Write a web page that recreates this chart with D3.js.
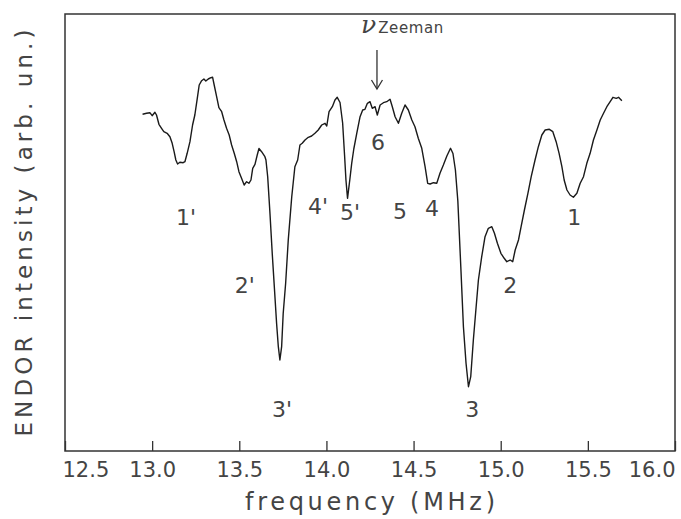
<!DOCTYPE html>
<html>
<head>
<meta charset="utf-8">
<script src="https://cdn.jsdelivr.net/npm/d3@7"></script>
<style>
  body { margin: 0; background: #fff; }
  svg { display: block; }
  text { font-family: "DejaVu Sans", sans-serif; fill: #444; }
</style>
</head>
<body>
<svg id="chart" width="681" height="519"></svg>
<script>
// spectrum trace (frequency in MHz, intensity in arb. units)
const freq = [12.945, 12.968, 12.987, 13.000, 13.016, 13.025, 13.039, 13.054, 13.067, 13.086,
  13.102, 13.115, 13.126, 13.136, 13.146, 13.159, 13.178, 13.188, 13.201, 13.217,
  13.232, 13.245, 13.259, 13.270, 13.284, 13.297, 13.308, 13.322, 13.337, 13.347,
  13.356, 13.370, 13.383, 13.399, 13.412, 13.427, 13.442, 13.456, 13.471, 13.485,
  13.498, 13.513, 13.528, 13.542, 13.555, 13.567, 13.577, 13.590, 13.603, 13.613,
  13.628, 13.647, 13.653, 13.663, 13.676, 13.689, 13.701, 13.714, 13.724, 13.733,
  13.743, 13.752, 13.766, 13.781, 13.801, 13.819, 13.835, 13.848, 13.861, 13.877,
  13.896, 13.915, 13.934, 13.953, 13.973, 13.992, 14.002, 14.015, 14.034, 14.049,
  14.062, 14.078, 14.093, 14.104, 14.112, 14.121, 14.134, 14.145, 14.157, 14.174,
  14.193, 14.208, 14.221, 14.235, 14.250, 14.263, 14.279, 14.292, 14.308, 14.327,
  14.346, 14.365, 14.378, 14.394, 14.413, 14.432, 14.451, 14.470, 14.490, 14.508,
  14.527, 14.547, 14.566, 14.581, 14.595, 14.614, 14.633, 14.652, 14.671, 14.691,
  14.712, 14.726, 14.740, 14.754, 14.771, 14.786, 14.801, 14.815, 14.828, 14.843,
  14.859, 14.872, 14.891, 14.910, 14.929, 14.949, 14.964, 14.981, 15.001, 15.020,
  15.035, 15.054, 15.069, 15.083, 15.102, 15.117, 15.136, 15.156, 15.175, 15.197,
  15.216, 15.236, 15.255, 15.279, 15.299, 15.318, 15.335, 15.351, 15.364, 15.380,
  15.398, 15.417, 15.437, 15.456, 15.475, 15.494, 15.513, 15.532, 15.552, 15.571,
  15.590, 15.609, 15.628, 15.644, 15.663, 15.676, 15.695];

const intensity = [336.7, 337.7, 338.3, 335.3, 338.7, 336, 326.7, 322.7, 319.3, 317.7,
  314.3, 307.7, 299.3, 291, 287, 288.7, 288.3, 289.3, 297.7, 309.3,
  326, 336, 352.7, 366, 370.3, 372, 370, 372, 373.3, 373.7,
  366, 354.3, 343.3, 339.3, 331, 322.7, 316, 306, 297.7, 289.3,
  279.3, 272.7, 266, 269.3, 267.7, 271, 282.7, 286.7, 296, 302.5,
  299.3, 294.3, 291, 274.3, 237.7, 197.7, 164.3, 127.7, 104.3, 91,
  104.3, 137.7, 167.7, 211, 254.3, 284.3, 291, 306, 307.7, 311,
  313.7, 315, 317.7, 321, 326, 327.7, 325, 339.3, 344.3, 351,
  353.7, 348.5, 328, 296, 271, 252.7, 271, 287.7, 302, 317.7,
  334.3, 341, 341.7, 347.7, 349.3, 342.7, 344.3, 336, 346, 348.3,
  349.3, 351.7, 344.3, 334.3, 327.7, 337.7, 346, 341, 331, 324.3,
  312.7, 302.7, 284.3, 267.7, 267, 268.3, 267.7, 278, 286, 295,
  302.7, 297.5, 281, 250, 184.3, 124.3, 87.7, 64.3, 74.3, 111,
  144.3, 171, 194.3, 214.3, 222.7, 224.3, 217.7, 207.7, 197.7, 192.7,
  189.3, 191, 189.3, 201, 211, 224.3, 241, 257.7, 274.3, 291,
  304.3, 316, 321, 321.7, 319.3, 309.3, 297.7, 284.3, 271, 261,
  256, 253.7, 257.7, 267.7, 274.3, 287.7, 297.7, 311, 321, 331,
  337.7, 344.3, 349.3, 353.7, 352.7, 353.7, 350.3];

// x axis ticks
const tickValues = [12.5, 13.0, 13.5, 14.0, 14.5, 15.0, 15.5, 16.0];

// line assignments written under the spectrum
const peakLabels = ["1'", "2'", "3'", "4'", "5'", "5", "4", "1", "6", "2", "3"];
const peakFreq = [13.194, 13.532, 13.745, 13.952, 14.135, 14.422, 14.606, 15.422, 14.296, 15.054, 14.836];
const peakLevel = [226, 158, 34, 237, 231, 232, 235, 226, 301, 158, 34];

// Zeeman frequency marker
const zeemanFreq = 14.29;

const svg = d3.select("#chart");
const margin = { left: 65, right: 6, top: 14, bottom: 68 };
const width = 681 - margin.left - margin.right;
const height = 519 - margin.top - margin.bottom;

const x = d3.scaleLinear().domain([12.5, 16.0]).range([margin.left, margin.left + width]);
const y = d3.scaleLinear().domain([0, 437]).range([margin.top + height, margin.top]);

// frame
svg.append("rect")
    .attr("x", margin.left)
    .attr("y", margin.top)
    .attr("width", width)
    .attr("height", height)
    .attr("fill", "none")
    .attr("stroke", "#333")
    .attr("stroke-width", 1.5);

// bottom axis, ticks pointing inward
const xAxis = svg.append("g")
    .attr("transform", `translate(0,${margin.top + height})`)
    .call(d3.axisBottom(x)
        .tickValues(tickValues)
        .tickFormat(d3.format(".1f"))
        .tickSizeInner(-10)
        .tickSizeOuter(0)
        .tickPadding(11));

xAxis.select(".domain").remove();
xAxis.selectAll(".tick line").attr("stroke", "#333").attr("stroke-width", 1.3);
xAxis.selectAll(".tick text")
    .attr("fill", "#444")
    .style("font-size", "21px")
    .style("font-family", "DejaVu Sans, sans-serif");

// edge labels are pulled inside the frame
xAxis.selectAll(".tick text")
    .filter(d => d === 12.5)
    .attr("text-anchor", "start")
    .attr("x", -3);
xAxis.selectAll(".tick text")
    .filter(d => d === 16.0)
    .attr("text-anchor", "end")
    .attr("x", 0);

// axis titles
svg.append("text")
    .attr("x", 370)
    .attr("y", 510)
    .attr("text-anchor", "middle")
    .attr("textLength", 250)
    .attr("lengthAdjust", "spacing")
    .style("font-size", "24px")
    .text("frequency (MHz)");

svg.append("text")
    .attr("transform", "translate(32,233) rotate(-90)")
    .attr("text-anchor", "middle")
    .attr("textLength", 407)
    .attr("lengthAdjust", "spacing")
    .style("font-size", "23px")
    .text("ENDOR intensity (arb. un.)");

// the spectrum
const line = d3.line()
    .x((d, i) => x(freq[i]))
    .y(d => y(d));

svg.append("path")
    .datum(intensity)
    .attr("d", line)
    .attr("fill", "none")
    .attr("stroke", "#1a1a1a")
    .attr("stroke-width", 1.4)
    .attr("stroke-linejoin", "round");

// peak assignments
svg.append("g").selectAll("text")
    .data(peakLabels)
    .enter().append("text")
    .attr("x", (d, i) => x(peakFreq[i]))
    .attr("y", (d, i) => y(peakLevel[i]))
    .attr("text-anchor", "middle")
    .style("font-size", "22px")
    .text(d => d);

// nu Zeeman arrow
const ax = x(zeemanFreq);
svg.append("line")
    .attr("x1", ax).attr("x2", ax)
    .attr("y1", y(401)).attr("y2", y(362))
    .attr("stroke", "#333")
    .attr("stroke-width", 1.3);
svg.append("path")
    .attr("d", `M${ax - 5.5},${y(371)} L${ax},${y(362)} L${ax + 5.5},${y(371)}`)
    .attr("fill", "none")
    .attr("stroke", "#333")
    .attr("stroke-width", 1.3);

const zeeman = svg.append("text")
    .attr("x", ax - 16)
    .attr("y", 33);
zeeman.append("tspan")
    .style("font-family", "DejaVu Serif, serif")
    .style("font-style", "italic")
    .style("font-size", "25px")
    .text("ν");
zeeman.append("tspan")
    .attr("dx", 2)
    .style("font-size", "15px")
    .attr("letter-spacing", 0.6)
    .text("Zeeman");
</script>
</body>
</html>
